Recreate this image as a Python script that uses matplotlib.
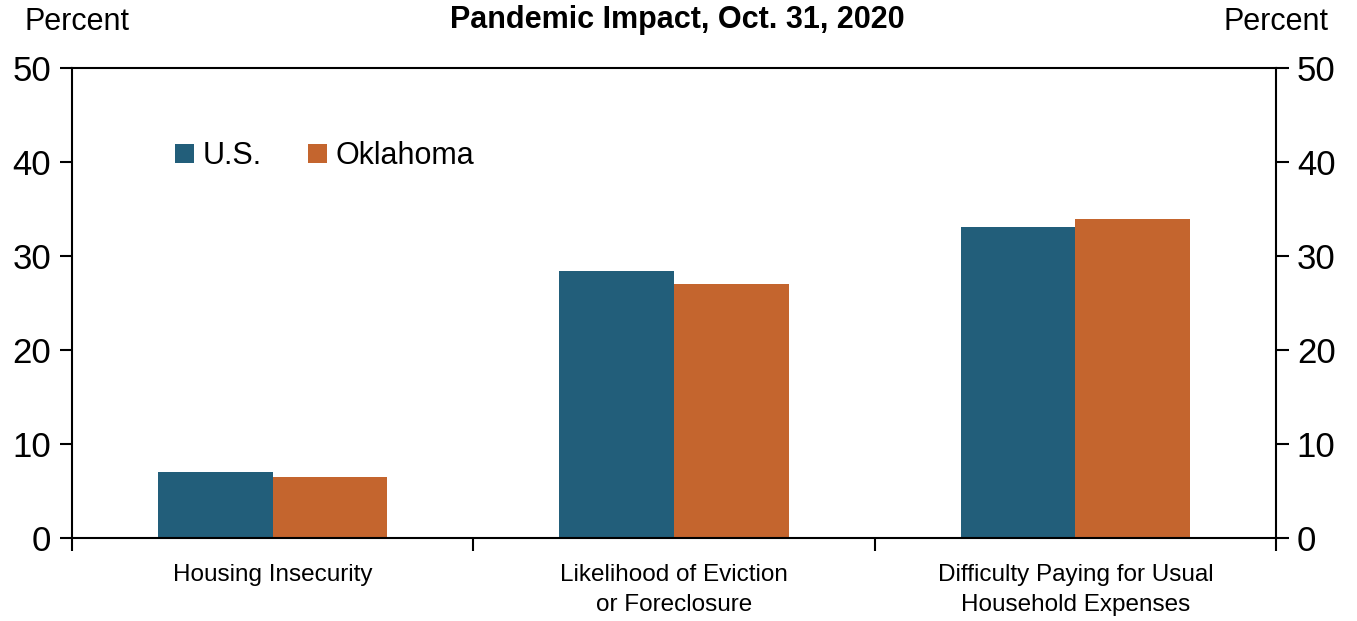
import matplotlib
matplotlib.use("Agg")
import matplotlib.pyplot as plt
import numpy as np

categories = ["Housing Insecurity", "Likelihood of Eviction\nor Foreclosure",
              "Difficulty Paying for Usual\nHousehold Expenses"]
us_values = [7.0, 28.4, 33.1]
ok_values = [6.5, 27.0, 33.9]
series_names = ["U.S.", "Oklahoma"]
yticks = [0, 10, 20, 30, 40, 50]

plt.rcParams["font.family"] = ["Liberation Sans Narrow", "Liberation Sans", "DejaVu Sans"]

fig = plt.figure(figsize=(13.57, 6.21), dpi=100)
ax = fig.add_axes([0.0531, 0.1337, 0.8872, 0.7568])

x = np.arange(len(categories))
w = 0.286
ax.bar(x - w / 2, us_values, w, color="#225E7A", label=series_names[0])
ax.bar(x + w / 2, ok_values, w, color="#C4652E", label=series_names[1])

ax.set_xlim(-0.5, len(categories) - 0.5)
ax.set_ylim(0, 50)
ax.set_yticks(yticks)
ax.tick_params(axis="y", labelsize=25, length=9, width=1.5, direction="out",
               left=True, right=True, labelleft=True, labelright=True, pad=6)

# category boundaries get the tick marks, labels sit between them
ax.set_xticks(np.arange(-0.5, len(categories)))
ax.set_xticklabels([])
ax.tick_params(axis="x", which="major", length=9, width=1.5, direction="out")
ax.set_xticks(x, minor=True)
ax.set_xticklabels(categories, minor=True, fontsize=17.5, linespacing=1.45)
ax.tick_params(axis="x", which="minor", length=0, pad=19)

for s in ax.spines.values():
    s.set_linewidth(1.5)

leg = ax.legend(loc="upper left", bbox_to_anchor=(0.075, 0.87), ncol=2, frameon=False,
                fontsize=22, handlelength=0.62, handleheight=0.62, handletextpad=0.3,
                columnspacing=1.5, borderaxespad=0)

fig.text(0.499, 0.968, "Pandemic Impact, Oct. 31, 2020", ha="center", va="center",
         fontsize=22, fontweight="bold")
fig.text(0.018, 0.965, "Percent", ha="left", va="center", fontsize=22)
fig.text(0.979, 0.965, "Percent", ha="right", va="center", fontsize=22)

fig.savefig("out.png", dpi=100)
